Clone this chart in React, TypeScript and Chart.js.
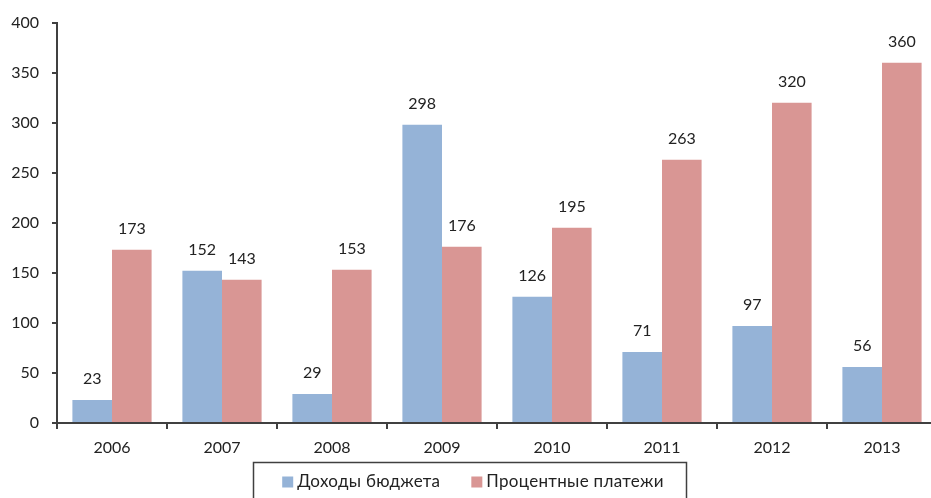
import React, { useEffect, useRef } from "react";
import { Chart, registerables } from "chart.js";

Chart.register(...registerables);

const categories = ["2006", "2007", "2008", "2009", "2010", "2011", "2012", "2013"];
const seriesNames = ["Доходы бюджета", "Процентные платежи"];
const budgetIncome = [23, 152, 29, 298, 126, 71, 97, 56];
const interestPayments = [173, 143, 153, 176, 195, 263, 320, 360];
const yTicks = { min: 0, max: 400, step: 50 };

const FONT = "Lato, 'Noto Sans', 'DejaVu Sans', sans-serif";
const TEXT = "#222222";
const AXIS = "#404040";
const BLUE = "#95B3D7";
const RED = "#D99694";

const CW = 945;
const CH = 520;

const valueLabels = {
  id: "valueLabels",
  afterDatasetsDraw(chart: any) {
    const ctx = chart.ctx;
    ctx.save();
    ctx.font = `16px ${FONT}`;
    ctx.fillStyle = TEXT;
    ctx.textAlign = "center";
    ctx.textBaseline = "alphabetic";
    chart.data.datasets.forEach((ds: any, di: number) => {
      const meta = chart.getDatasetMeta(di);
      meta.data.forEach((bar: any, i: number) => {
        ctx.fillText(String(ds.data[i]), bar.x, bar.y - 16);
      });
    });
    ctx.restore();
  },
};

const boxedLegend = {
  id: "boxedLegend",
  afterDraw(chart: any) {
    const ctx = chart.ctx;
    ctx.save();
    ctx.font = `17px ${FONT}`;
    try { (ctx as any).letterSpacing = "0.3px"; } catch (e) {}
    const items = chart.data.datasets.map((ds: any) => ({
      text: ds.label,
      color: ds.backgroundColor,
      w: ctx.measureText(ds.label).width,
    }));
    const sq = 11;
    const gapText = 4;
    const gapItem = 31;
    let total = 0;
    items.forEach((it: any, i: number) => {
      total += sq + gapText + it.w + (i < items.length - 1 ? gapItem : 0);
    });
    const boxL = 253.5;
    const boxR = 686.5;
    const boxT = 462.5;
    const center = (boxL + boxR) / 2 + 3;
    let x = center - total / 2;
    const midY = 482;
    ctx.strokeStyle = AXIS;
    ctx.lineWidth = 1.5;
    ctx.strokeRect(boxL, boxT, boxR - boxL, CH - boxT + 10);
    ctx.textBaseline = "middle";
    ctx.textAlign = "left";
    items.forEach((it: any) => {
      ctx.fillStyle = it.color;
      ctx.fillRect(x, midY - 5.5, sq, sq);
      x += sq + gapText;
      ctx.fillStyle = TEXT;
      ctx.fillText(it.text, x, midY);
      x += it.w + gapItem;
    });
    ctx.restore();
  },
};

export default function App() {
  const ref = useRef<HTMLCanvasElement | null>(null);
  useEffect(() => {
    if (!ref.current) return;
    const chart = new Chart(ref.current, {
      type: "bar",
      data: {
        labels: categories,
        datasets: [
          { label: seriesNames[0], data: budgetIncome, backgroundColor: BLUE },
          { label: seriesNames[1], data: interestPayments, backgroundColor: RED },
        ],
      },
      options: {
        responsive: false,
        animation: false,
        events: [],
        layout: { padding: { top: 21, right: 8, bottom: CH - 423 - 40, left: 0 } },
        datasets: { bar: { categoryPercentage: 0.72, barPercentage: 1 } },
        plugins: {
          legend: { display: false },
          tooltip: { enabled: false },
          title: { display: false },
        },
        scales: {
          x: {
            offset: true,
            afterFit: (s: any) => { s.height = 40; },
            border: { display: true, color: AXIS, width: 2 },
            grid: {
              offset: true,
              drawOnChartArea: false,
              drawTicks: true,
              tickLength: 6,
              color: AXIS,
              lineWidth: 2,
            },
            ticks: {
              color: TEXT,
              font: { family: FONT, size: 16 },
              padding: 9,
              maxRotation: 0,
            },
          },
          y: {
            min: yTicks.min,
            max: yTicks.max,
            afterFit: (s: any) => { s.width = 57; },
            border: { display: true, color: AXIS, width: 2 },
            grid: {
              drawOnChartArea: false,
              drawTicks: true,
              tickLength: 5,
              color: AXIS,
              lineWidth: 2,
            },
            ticks: {
              stepSize: yTicks.step,
              color: TEXT,
              font: { family: FONT, size: 16 },
              padding: 13,
            },
          },
        },
      },
      plugins: [valueLabels, boxedLegend],
    });
    return () => chart.destroy();
  }, []);
  return (
    <div
      style={{
        position: "fixed",
        left: 0,
        top: 0,
        width: 931,
        height: 498,
        overflow: "hidden",
        background: "#fff",
      }}
    >
      <canvas ref={ref} width={CW} height={CH} style={{ width: CW, height: CH, display: "block" }} />
    </div>
  );
}
